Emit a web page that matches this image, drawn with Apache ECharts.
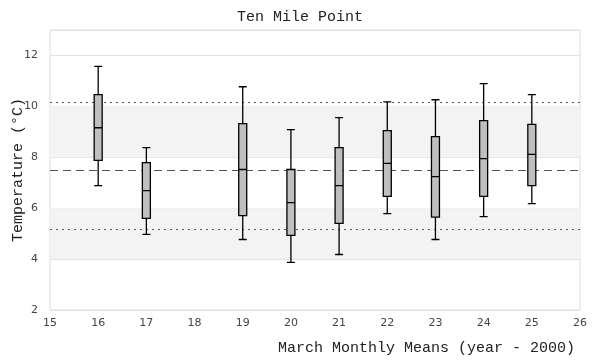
<!DOCTYPE html>
<html>
<head>
<meta charset="utf-8">
<script src="https://cdn.jsdelivr.net/npm/echarts@6/dist/echarts.min.js"></script>
<style>html,body{margin:0;padding:0;background:#fff}#c{width:600px;height:360px}</style>
</head>
<body>
<div id="c"></div>
<script>
var years   = [16, 17, 19, 20, 21, 22, 23, 24, 25];
var mins    = [6.89, 4.97, 4.77, 3.87, 4.18, 5.79, 4.77, 5.67, 6.18];
var q1s     = [7.88, 5.60, 5.71, 4.93, 5.40, 6.46, 5.65, 6.46, 6.89];
var medians = [9.16, 6.69, 7.52, 6.22, 6.89, 7.76, 7.24, 7.95, 8.11];
var q3s     = [10.46, 7.79, 9.32, 7.52, 8.38, 9.05, 8.81, 9.44, 9.29];
var maxs    = [11.57, 8.38, 10.77, 9.09, 9.56, 10.18, 10.26, 10.89, 10.46];
var meanLine = 7.49;
var upperLine = 10.18;
var lowerLine = 5.16;
var bands = [[4, 6], [8, 10]];

var boxData = years.map(function (y, i) {
  return [y, mins[i], q1s[i], medians[i], q3s[i], maxs[i]];
});

var mono = '"Liberation Mono", "DejaVu Sans Mono", monospace';
var chart = echarts.init(document.getElementById('c'), null, {renderer: 'canvas'});
chart.setOption({
  animation: false,
  title: {
    text: 'Ten Mile Point', left: 'center', top: 5,
    textStyle: {fontFamily: mono, fontSize: 15, fontWeight: 'normal', color: '#222'}
  },
  grid: {left: 50, right: 20, top: 30, bottom: 50, show: true, borderColor: '#ddd', borderWidth: 1,
         containLabel: false, outerBoundsMode: 'none'},
  xAxis: {
    type: 'value', min: 15, max: 26, interval: 1,
    axisLine: {show: false}, axisTick: {show: false}, splitLine: {show: false},
    axisLabel: {fontSize: 11, color: '#444', margin: 8, fontFamily: 'DejaVu Sans'},
    name: 'March Monthly Means (year - 2000)', nameLocation: 'end', nameGap: 0, nameMoveOverlap: false,
    nameTextStyle: {fontFamily: mono, fontSize: 15, color: '#222', align: 'right', verticalAlign: 'top', padding: [31, 5, 0, 0]}
  },
  yAxis: {
    type: 'value', min: 2, max: 13, interval: 2,
    axisLine: {show: false}, axisTick: {show: false},
    splitLine: {show: true, lineStyle: {color: '#e2e2e2'}},
    axisLabel: {fontSize: 11, color: '#444', margin: 12, fontFamily: 'DejaVu Sans', showMaxLabel: false},
    name: 'Temperature (°C)', nameLocation: 'middle', nameGap: 24, nameMoveOverlap: false,
    nameTextStyle: {fontFamily: mono, fontSize: 15, color: '#222'}
  },
  series: [{
    type: 'boxplot',
    data: boxData,
    boxWidth: [8, 8],
    itemStyle: {color: '#bfbfbf', borderColor: '#000', borderWidth: 1.3},
    emphasis: {disabled: true},
    z: 5,
    markArea: {
      silent: true,
      itemStyle: {color: '#f3f3f3'},
      data: bands.map(function (b) { return [{yAxis: b[0]}, {yAxis: b[1]}]; })
    },
    markLine: {
      silent: true, symbol: 'none', label: {show: false},
      data: [
        {yAxis: upperLine, lineStyle: {color: '#555', type: [2, 4], width: 1.2}},
        {yAxis: meanLine, lineStyle: {color: '#555', type: [8, 5], width: 1.2}},
        {yAxis: lowerLine, lineStyle: {color: '#555', type: [2, 4], width: 1.2}}
      ]
    }
  }]
});
</script>
</body>
</html>
